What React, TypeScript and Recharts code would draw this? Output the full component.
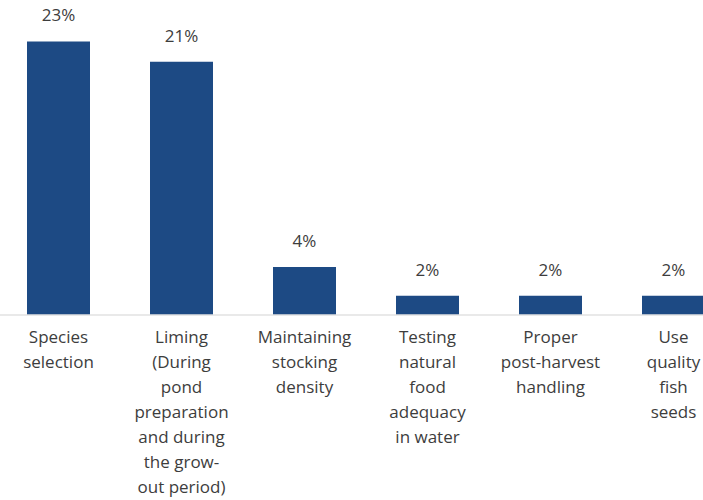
import { BarChart, Bar, XAxis, YAxis, LabelList } from 'recharts';

const categories = [
  'Species\nselection',
  'Liming\n(During\npond\npreparation\nand during\nthe grow-\nout period)',
  'Maintaining\nstocking\ndensity',
  'Testing\nnatural\nfood\nadequacy\nin water',
  'Proper\npost-harvest\nhandling',
  'Use\nquality\nfish\nseeds',
];
const shares = [22.8, 21.1, 4.0, 1.6, 1.6, 1.6];

const data = categories.map((name, i) => ({ name, share: shares[i] }));

const FONT = '"Open Sans", "Noto Sans", sans-serif';
const TEXT = '#3d3d3d';

function MultiLineTick({ x, y, payload }: any) {
  const lines: string[] = String(payload.value).split('\n');
  return (
    <text x={x} y={y + 28} textAnchor="middle" fill={TEXT} fontSize={17} fontFamily={FONT}>
      {lines.map((line, i) => (
        <tspan key={i} x={x} dy={i === 0 ? 0 : 25}>
          {line}
        </tspan>
      ))}
    </text>
  );
}

export default function App() {
  return (
    <div
      style={{
        position: 'absolute',
        left: 0,
        top: 0,
        width: 703,
        height: 500,
        overflow: 'hidden',
        background: '#fff',
      }}
    >
      <div style={{ position: 'absolute', left: -3, top: 0 }}>
        <BarChart
          width={738}
          height={500}
          data={data}
          margin={{ top: 3, right: 0, left: 0, bottom: 0 }}
        >
          <XAxis
            dataKey="name"
            interval={0}
            height={185}
            tickLine={false}
            tickSize={0}
            tickMargin={0}
            axisLine={{ stroke: '#e2e2e2', strokeWidth: 1.5 }}
            tick={<MultiLineTick />}
          />
          <YAxis hide domain={[0, 26]} />
          <Bar dataKey="share" fill="#1d4a84" barSize={63} isAnimationActive={false}>
            <LabelList
              dataKey="share"
              position="top"
              offset={20}
              formatter={(v: any) => `${Math.round(Number(v))}%`}
              fill={TEXT}
              fontSize={17}
              fontFamily={FONT}
            />
          </Bar>
        </BarChart>
      </div>
    </div>
  );
}
